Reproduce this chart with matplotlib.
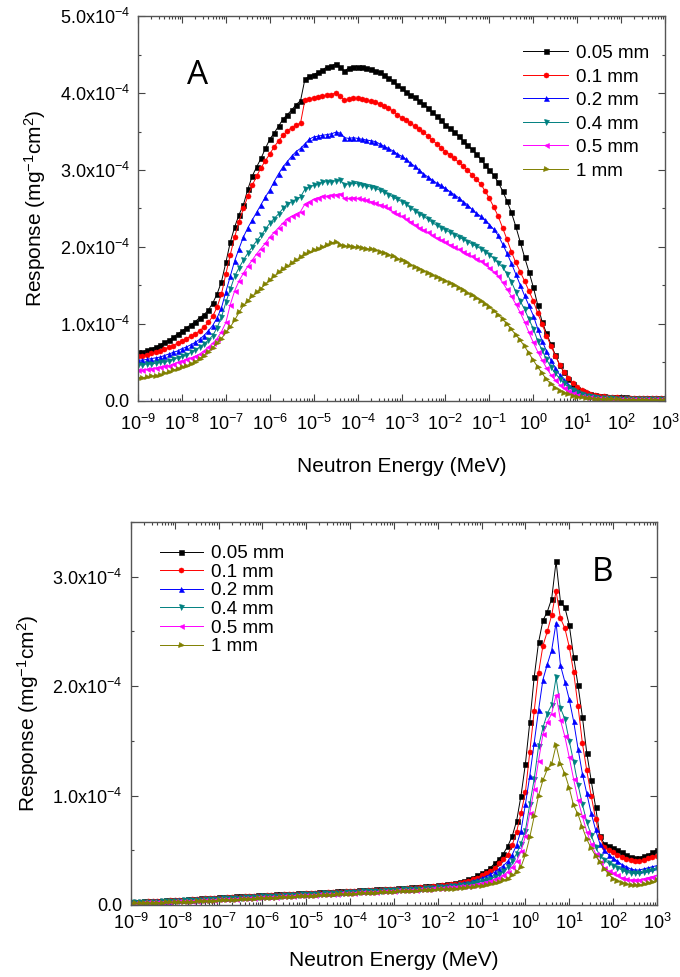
import numpy as np
import matplotlib
matplotlib.use("Agg")
import matplotlib.pyplot as plt
from matplotlib.ticker import LogLocator, FuncFormatter, MultipleLocator, NullFormatter

plt.rcParams['font.family'] = ['Liberation Sans', 'DejaVu Sans']
plt.rcParams['mathtext.default'] = 'regular'

# neutron energy grid, 10 bins per decade, 1e-9 .. 1e3 MeV
energy = np.logspace(-9, 3, 121)

labels = ['0.05 mm', '0.1 mm', '0.2 mm', '0.4 mm', '0.5 mm', '1 mm']
colors = ['#000000', '#ff0000', '#0000ff', '#008080', '#ff00ff', '#808000']
markers = ['s', 'o', '^', 'v', '<', '>']

# panel A, response in units of 1e-5 mg^-1 cm^2
a_005 = [6.3, 6.4, 6.6, 6.8, 7.0, 7.3, 7.6, 7.9, 8.3, 8.7,
         9.1, 9.5, 9.9, 10.3, 10.8, 11.2, 11.8, 12.7, 13.9, 15.5,
         18.0, 20.6, 22.6, 24.2, 25.5, 27.5, 29.2, 30.4, 31.5, 32.8,
         34.0, 34.8, 35.7, 36.6, 37.2, 37.8, 38.5, 39.0, 41.8, 42.2,
         42.4, 42.7, 43.0, 43.4, 43.5, 43.8, 43.4, 42.8, 43.3, 43.4,
         43.4, 43.4, 43.3, 43.1, 42.9, 42.7, 42.4, 42.0, 41.6, 41.0,
         40.6, 40.1, 39.8, 39.5, 39.0, 38.6, 38.1, 37.5, 37.0, 36.5,
         35.9, 35.4, 34.9, 34.4, 33.8, 33.3, 32.7, 32.1, 31.4, 30.7,
         30.0, 29.3, 28.4, 27.3, 26.0, 24.5, 22.7, 20.7, 18.7, 16.8,
         14.8, 12.5, 10.3, 8.8, 7.4, 6.0, 4.7, 3.7, 2.9, 2.2,
         1.6, 1.3, 1.0, 0.85, 0.75, 0.68, 0.62, 0.57, 0.53, 0.5,
         0.48, 0.46, 0.44, 0.42, 0.41, 0.4, 0.39, 0.38, 0.37, 0.36,
         0.36]
a_01 = [5.8, 5.9, 6.0, 6.2, 6.3, 6.5, 6.7, 7.0, 7.2, 7.5,
        7.8, 8.1, 8.4, 8.7, 9.1, 9.6, 10.2, 11.0, 12.2, 13.9,
        16.5, 19.0, 21.3, 23.3, 25.0, 26.6, 28.0, 29.2, 30.3, 31.2,
        32.1, 33.0, 33.8, 34.5, 35.1, 35.5, 35.8, 36.1, 39.1, 39.2,
        39.4, 39.5, 39.6, 39.7, 39.8, 40.0, 39.6, 39.1, 39.2, 39.3,
        39.3, 39.2, 39.1, 38.9, 38.8, 38.6, 38.3, 38.0, 37.7, 37.2,
        36.8, 36.5, 36.1, 35.7, 35.3, 34.9, 34.4, 33.9, 33.4, 32.9,
        32.4, 32.0, 31.5, 31.0, 30.5, 30.0, 29.4, 28.8, 28.2, 27.3,
        26.3, 25.2, 24.0, 22.5, 21.0, 19.4, 18.0, 16.8, 15.6, 14.3,
        13.0, 11.4, 10.0, 8.5, 7.2, 5.9, 4.7, 3.8, 3.0, 2.3,
        1.8, 1.4, 1.1, 0.9, 0.75, 0.65, 0.58, 0.52, 0.48, 0.45,
        0.43, 0.41, 0.39, 0.38, 0.37, 0.36, 0.35, 0.34, 0.33, 0.33,
        0.33]
a_02 = [5.3, 5.3, 5.4, 5.5, 5.6, 5.7, 5.9, 6.1, 6.3, 6.5,
        6.8, 7.0, 7.3, 7.6, 8.0, 8.5, 9.1, 9.8, 10.8, 12.1,
        14.2, 16.2, 18.2, 19.8, 21.3, 22.5, 23.5, 24.5, 25.5, 26.5,
        27.4, 28.5, 29.5, 30.4, 31.1, 31.8, 32.4, 32.8, 33.4, 34.0,
        34.3, 34.4, 34.5, 34.6, 34.7, 34.9, 34.8, 34.2, 34.1, 34.2,
        34.1, 34.0, 33.9, 33.8, 33.7, 33.4, 33.1, 32.8, 32.5, 32.1,
        31.8, 31.4, 30.9, 30.5, 30.0, 29.5, 29.1, 28.7, 28.3, 28.0,
        27.6, 27.2, 26.8, 26.4, 25.9, 25.5, 24.9, 24.4, 24.0, 23.5,
        22.9, 22.3, 21.5, 20.4, 19.2, 17.9, 16.5, 15.1, 13.7, 12.4,
        11.1, 9.4, 7.8, 6.5, 5.3, 4.3, 3.4, 2.7, 2.1, 1.6,
        1.2, 0.95, 0.78, 0.65, 0.55, 0.48, 0.43, 0.4, 0.37, 0.35,
        0.33, 0.32, 0.31, 0.3, 0.29, 0.28, 0.28, 0.27, 0.27, 0.26,
        0.26]
a_04 = [4.7, 4.7, 4.8, 4.8, 4.9, 5.0, 5.1, 5.2, 5.4, 5.6,
        5.8, 6.0, 6.3, 6.6, 7.0, 7.4, 7.9, 8.5, 9.5, 10.9,
        12.8, 14.5, 16.2, 17.3, 18.3, 19.2, 20.0, 20.8, 21.5, 22.3,
        23.1, 23.7, 24.3, 25.0, 25.6, 25.9, 26.2, 26.5, 27.5, 27.8,
        28.0, 28.2, 28.4, 28.5, 28.5, 28.6, 28.7, 28.1, 28.2, 28.3,
        28.2, 28.0, 27.9, 27.8, 27.6, 27.4, 27.1, 26.8, 26.5, 26.2,
        25.9, 25.6, 25.1, 24.7, 24.3, 24.0, 23.6, 23.2, 22.8, 22.5,
        22.2, 21.9, 21.6, 21.3, 21.0, 20.7, 20.4, 20.1, 19.8, 19.4,
        19.0, 18.5, 17.9, 17.4, 16.5, 15.5, 14.2, 13.0, 11.9, 10.6,
        9.4, 7.8, 6.6, 5.4, 4.4, 3.6, 2.9, 2.3, 1.8, 1.4,
        1.1, 0.85, 0.7, 0.58, 0.5, 0.44, 0.39, 0.35, 0.33, 0.31,
        0.29, 0.28, 0.27, 0.26, 0.25, 0.25, 0.24, 0.24, 0.23, 0.23,
        0.23]
a_05 = [4.0, 4.0, 4.1, 4.2, 4.3, 4.4, 4.5, 4.6, 4.8, 5.0,
        5.2, 5.4, 5.6, 5.8, 6.1, 6.5, 7.0, 7.5, 8.1, 9.0,
        10.2, 12.5, 14.3, 15.6, 16.6, 17.5, 18.3, 19.1, 19.8, 20.5,
        21.3, 21.9, 22.5, 23.1, 23.7, 24.0, 24.3, 24.6, 25.6, 25.9,
        26.2, 26.4, 26.6, 26.6, 26.7, 26.8, 26.9, 26.3, 26.3, 26.4,
        26.3, 26.2, 26.1, 25.9, 25.7, 25.5, 25.3, 25.0, 24.6, 24.3,
        24.0, 23.6, 23.3, 22.9, 22.5, 22.2, 21.9, 21.5, 21.2, 20.9,
        20.6, 20.3, 20.0, 19.7, 19.4, 19.1, 18.8, 18.5, 18.2, 17.8,
        17.3, 16.8, 16.2, 15.4, 14.5, 13.6, 12.6, 11.5, 10.3, 8.9,
        7.6, 6.4, 5.3, 4.3, 3.4, 2.7, 2.1, 1.7, 1.3, 1.0,
        0.8, 0.65, 0.55, 0.47, 0.4, 0.36, 0.32, 0.3, 0.28, 0.26,
        0.25, 0.24, 0.23, 0.22, 0.22, 0.21, 0.21, 0.2, 0.2, 0.2,
        0.2]
a_1 = [3.0, 3.0, 3.1, 3.2, 3.3, 3.4, 3.6, 3.7, 4.0, 4.2,
       4.4, 4.6, 4.8, 5.1, 5.5, 5.9, 6.4, 6.9, 7.5, 8.1,
       8.9, 9.6, 10.5, 11.5, 12.4, 13.0, 13.6, 14.1, 14.6, 15.2,
       15.7, 16.2, 16.7, 17.1, 17.5, 17.9, 18.3, 18.7, 19.1, 19.3,
       19.6, 19.8, 20.0, 20.3, 20.5, 20.7, 20.3, 20.1, 20.1, 20.0,
       20.0, 19.9, 19.8, 19.7, 19.6, 19.4, 19.2, 19.0, 18.8, 18.5,
       18.3, 18.0, 17.7, 17.4, 17.2, 16.9, 16.6, 16.3, 16.1, 15.8,
       15.6, 15.3, 15.0, 14.7, 14.4, 14.0, 13.7, 13.4, 13.0, 12.6,
       12.2, 11.7, 11.2, 10.6, 10.0, 9.3, 8.6, 7.9, 7.1, 6.2,
       5.3, 4.4, 3.6, 2.8, 2.2, 1.7, 1.35, 1.05, 0.85, 0.7,
       0.55, 0.45, 0.38, 0.32, 0.28, 0.25, 0.23, 0.21, 0.2, 0.19,
       0.18, 0.17, 0.17, 0.16, 0.16, 0.15, 0.15, 0.15, 0.15, 0.15,
       0.15]

# panel B, response in units of 1e-5 mg^-1 cm^2
b_005 = [0.3, 0.3, 0.31, 0.32, 0.34, 0.36, 0.38, 0.4, 0.42, 0.44,
         0.46, 0.48, 0.5, 0.52, 0.55, 0.58, 0.6, 0.63, 0.65, 0.68,
         0.7, 0.72, 0.74, 0.76, 0.78, 0.8, 0.82, 0.84, 0.86, 0.88,
         0.9, 0.92, 0.94, 0.96, 0.98, 1.0, 1.02, 1.04, 1.06, 1.08,
         1.1, 1.12, 1.14, 1.16, 1.18, 1.2, 1.22, 1.24, 1.26, 1.28,
         1.3, 1.32, 1.34, 1.36, 1.38, 1.4, 1.42, 1.44, 1.46, 1.48,
         1.5, 1.52, 1.55, 1.58, 1.6, 1.63, 1.66, 1.7, 1.74, 1.78,
         1.8, 1.85, 1.9, 1.95, 2.0, 2.1, 2.2, 2.35, 2.5, 2.7,
         2.9, 3.1, 3.4, 3.8, 4.2, 4.7, 5.4, 6.3, 7.7, 10.0,
         12.9, 16.7, 20.8, 24.0, 26.0, 26.8, 28.0, 31.4, 27.7, 27.2,
         25.6, 22.7, 20.1, 17.2, 13.9, 11.4, 9.0, 6.3, 5.6, 5.4,
         5.2, 5.0, 4.8, 4.6, 4.4, 4.3, 4.3, 4.5, 4.6, 4.8,
         5.0]
b_01 = [0.28, 0.28, 0.29, 0.3, 0.32, 0.34, 0.36, 0.38, 0.4, 0.42,
        0.44, 0.46, 0.48, 0.5, 0.52, 0.55, 0.57, 0.6, 0.62, 0.64,
        0.66, 0.68, 0.7, 0.72, 0.74, 0.76, 0.78, 0.8, 0.82, 0.84,
        0.86, 0.88, 0.9, 0.92, 0.94, 0.96, 0.98, 1.0, 1.02, 1.04,
        1.06, 1.08, 1.1, 1.12, 1.14, 1.16, 1.18, 1.2, 1.22, 1.24,
        1.26, 1.28, 1.3, 1.32, 1.34, 1.36, 1.38, 1.4, 1.42, 1.44,
        1.46, 1.48, 1.5, 1.53, 1.56, 1.59, 1.62, 1.65, 1.69, 1.73,
        1.77, 1.81, 1.85, 1.9, 1.95, 2.0, 2.1, 2.2, 2.35, 2.5,
        2.7, 2.9, 3.1, 3.4, 3.8, 4.2, 4.6, 5.5, 6.7, 8.4,
        10.3, 14.0, 17.7, 21.2, 23.7, 25.0, 26.5, 28.7, 26.2, 25.3,
        23.6, 21.3, 18.2, 14.8, 12.3, 10.0, 7.9, 6.2, 5.3, 5.0,
        4.8, 4.6, 4.4, 4.2, 4.1, 4.0, 4.0, 4.1, 4.3, 4.4,
        4.5]
b_02 = [0.26, 0.27, 0.28, 0.29, 0.3, 0.32, 0.34, 0.36, 0.38, 0.4,
        0.42, 0.44, 0.46, 0.48, 0.5, 0.52, 0.54, 0.56, 0.58, 0.6,
        0.62, 0.64, 0.66, 0.68, 0.7, 0.72, 0.74, 0.76, 0.78, 0.8,
        0.82, 0.84, 0.86, 0.88, 0.9, 0.92, 0.94, 0.96, 0.98, 1.0,
        1.02, 1.04, 1.06, 1.08, 1.1, 1.12, 1.14, 1.16, 1.18, 1.2,
        1.22, 1.24, 1.26, 1.28, 1.3, 1.32, 1.34, 1.36, 1.38, 1.4,
        1.42, 1.44, 1.46, 1.48, 1.5, 1.53, 1.56, 1.59, 1.62, 1.66,
        1.7, 1.74, 1.78, 1.82, 1.87, 1.92, 1.98, 2.05, 2.15, 2.3,
        2.45, 2.6, 2.8, 3.0, 3.3, 3.6, 4.0, 4.6, 5.5, 6.8,
        9.2, 11.8, 14.8, 17.8, 20.6, 22.0, 23.3, 25.8, 21.9, 20.4,
        18.8, 16.8, 14.3, 12.0, 10.2, 8.4, 6.9, 5.6, 5.0, 4.6,
        4.3, 4.0, 3.7, 3.5, 3.3, 3.2, 3.2, 3.3, 3.4, 3.5,
        3.6]
b_04 = [0.24, 0.25, 0.26, 0.27, 0.28, 0.29, 0.3, 0.32, 0.34, 0.36,
        0.38, 0.4, 0.42, 0.44, 0.46, 0.48, 0.5, 0.52, 0.54, 0.56,
        0.58, 0.6, 0.62, 0.64, 0.66, 0.68, 0.7, 0.72, 0.74, 0.76,
        0.78, 0.8, 0.82, 0.84, 0.86, 0.88, 0.9, 0.92, 0.94, 0.96,
        0.98, 1.0, 1.02, 1.04, 1.06, 1.08, 1.1, 1.12, 1.14, 1.16,
        1.18, 1.2, 1.22, 1.24, 1.26, 1.28, 1.3, 1.32, 1.34, 1.36,
        1.38, 1.4, 1.42, 1.44, 1.46, 1.48, 1.5, 1.53, 1.56, 1.59,
        1.62, 1.65, 1.68, 1.72, 1.76, 1.8, 1.85, 1.9, 1.98, 2.1,
        2.15, 2.25, 2.4, 2.6, 2.8, 3.1, 3.5, 4.0, 4.7, 5.6,
        6.8, 9.2, 11.5, 14.5, 16.2, 17.5, 18.3, 20.8, 18.0, 17.0,
        15.0, 13.1, 11.0, 9.2, 7.6, 6.4, 5.3, 4.5, 4.1, 3.8,
        3.6, 3.4, 3.2, 3.0, 2.9, 2.9, 2.9, 3.0, 3.1, 3.2,
        3.3]
b_05 = [0.2, 0.21, 0.22, 0.23, 0.24, 0.25, 0.26, 0.27, 0.28, 0.3,
        0.32, 0.33, 0.35, 0.37, 0.39, 0.41, 0.43, 0.45, 0.47, 0.49,
        0.51, 0.53, 0.55, 0.57, 0.59, 0.61, 0.63, 0.65, 0.67, 0.69,
        0.71, 0.73, 0.75, 0.77, 0.79, 0.81, 0.83, 0.85, 0.87, 0.89,
        0.91, 0.93, 0.95, 0.97, 0.99, 1.01, 1.03, 1.05, 1.07, 1.09,
        1.11, 1.13, 1.15, 1.17, 1.19, 1.21, 1.23, 1.25, 1.27, 1.29,
        1.31, 1.33, 1.35, 1.37, 1.39, 1.41, 1.43, 1.45, 1.48, 1.51,
        1.54, 1.57, 1.6, 1.63, 1.66, 1.7, 1.74, 1.78, 1.83, 1.9,
        1.98, 2.1, 2.2, 2.35, 2.5, 2.75, 3.05, 3.45, 4.0, 4.9,
        6.3, 8.4, 10.6, 13.2, 15.6, 16.7, 17.5, 19.2, 16.9, 15.4,
        13.5, 11.5, 9.6, 8.1, 6.7, 5.6, 4.7, 3.9, 3.4, 3.1,
        2.9, 2.7, 2.5, 2.4, 2.3, 2.3, 2.3, 2.4, 2.5, 2.6,
        2.7]
b_1 = [0.15, 0.16, 0.17, 0.18, 0.19, 0.2, 0.21, 0.22, 0.23, 0.24,
       0.25, 0.26, 0.27, 0.28, 0.3, 0.32, 0.34, 0.36, 0.38, 0.4,
       0.42, 0.44, 0.46, 0.48, 0.5, 0.52, 0.54, 0.56, 0.58, 0.6,
       0.62, 0.64, 0.66, 0.68, 0.7, 0.72, 0.74, 0.76, 0.78, 0.8,
       0.82, 0.84, 0.86, 0.88, 0.9, 0.92, 0.94, 0.96, 0.98, 1.0,
       1.02, 1.04, 1.06, 1.08, 1.1, 1.12, 1.14, 1.16, 1.18, 1.2,
       1.22, 1.24, 1.26, 1.28, 1.3, 1.32, 1.34, 1.36, 1.38, 1.4,
       1.42, 1.44, 1.46, 1.48, 1.5, 1.53, 1.56, 1.6, 1.64, 1.7,
       1.76, 1.82, 1.9, 2.0, 2.1, 2.25, 2.4, 2.7, 3.0, 3.5,
       4.6, 6.2, 8.1, 10.0, 11.4, 12.4, 12.9, 14.6, 12.9, 12.0,
       10.7, 9.1, 8.3, 7.1, 6.0, 5.2, 4.5, 3.9, 3.3, 2.8,
       2.4, 2.2, 2.0, 1.9, 1.8, 1.8, 1.8, 1.9, 2.0, 2.1,
       2.3]

panel_a = [a_005, a_01, a_02, a_04, a_05, a_1]
panel_b = [b_005, b_01, b_02, b_04, b_05, b_1]


def y_fmt(v, pos):
    if abs(v) < 1e-12:
        return '0.0'
    return r'$%.1fx10^{-4}$' % (v / 1e-4)


def style_axes(ax, ymax, xpad, xlabelpad):
    ax.set_xscale('log')
    ax.set_xlim(1e-9, 1e3)
    ax.set_ylim(0, ymax)
    ax.xaxis.set_major_locator(LogLocator(base=10, numticks=20))
    ax.xaxis.set_minor_locator(LogLocator(base=10, subs=np.arange(2, 10), numticks=200))
    ax.xaxis.set_minor_formatter(NullFormatter())
    ax.yaxis.set_major_locator(MultipleLocator(1e-4))
    ax.yaxis.set_minor_locator(MultipleLocator(0.5e-4))
    ax.yaxis.set_major_formatter(FuncFormatter(y_fmt))
    ax.tick_params(which='both', direction='in', top=True, right=True,
                   color='#444444', labelsize=13, width=0.8)
    ax.tick_params(which='major', length=5, pad=6)
    ax.tick_params(which='minor', length=2.5)
    ax.tick_params(axis='x', which='major', pad=xpad)
    for sp in ax.spines.values():
        sp.set_color('#555555')
        sp.set_linewidth(1.0)
    ax.set_xlabel('Neutron Energy (MeV)', fontsize=15, labelpad=xlabelpad)
    ax.set_ylabel(r'Response (mg$^{-1}$cm$^{2}$)', fontsize=15, labelpad=8)


fig = plt.figure(figsize=(6.8, 9.77), dpi=100)
ax1 = fig.add_axes([0.203, 0.5896, 0.775, 0.394])
ax2 = fig.add_axes([0.1926, 0.0737, 0.7734, 0.392])

for ax, series in [(ax1, panel_a), (ax2, panel_b)]:
    for vals, lab, col, mk in zip(series, labels, colors, markers):
        ax.plot(energy, np.array(vals) * 1e-5, color=col, marker=mk, markersize=3.6,
                linewidth=0.7, label=lab, markeredgewidth=0.4)

style_axes(ax1, 5e-4, 9, 17)
style_axes(ax2, 3.5e-4, 6, 13)

ax1.legend(loc='upper left', bbox_to_anchor=(0.731, 0.925), frameon=False, fontsize=13.5,
           borderaxespad=0, borderpad=0, handlelength=2.4, handletextpad=0.4,
           labelspacing=0.34)
ax2.legend(loc='upper left', bbox_to_anchor=(0.055, 0.94), frameon=False, fontsize=13.5,
           borderaxespad=0, borderpad=0, handlelength=2.3, handletextpad=0.4,
           labelspacing=0.08)

ax1.text(0.112, 0.845, 'A', transform=ax1.transAxes, fontsize=24, family='Open Sans',
         ha='center', va='center')
ax2.text(0.897, 0.869, 'B', transform=ax2.transAxes, fontsize=24, family='Open Sans',
         ha='center', va='center')

fig.savefig('out.png', dpi=100)
